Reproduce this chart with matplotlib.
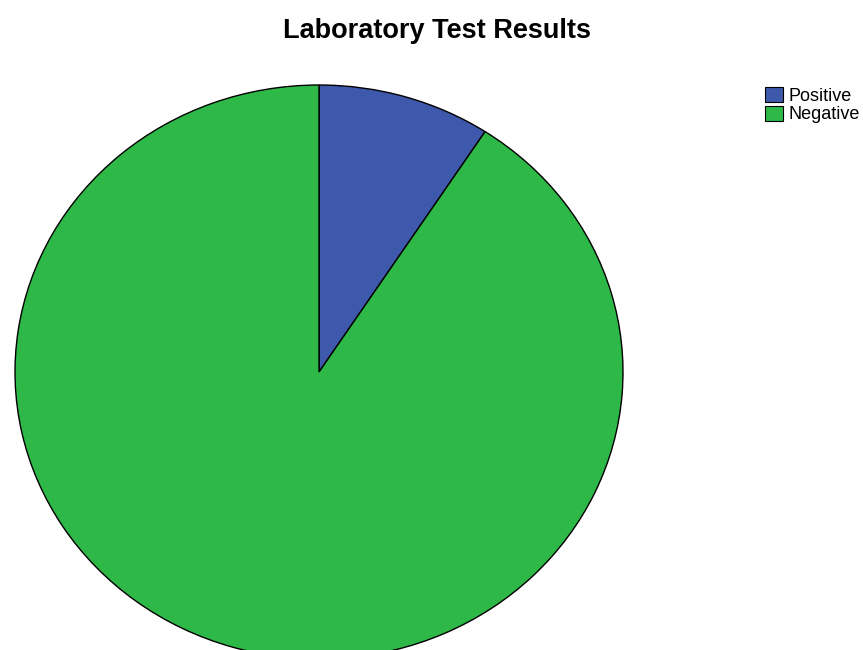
import matplotlib
matplotlib.use("Agg")
import matplotlib.pyplot as plt
from matplotlib.patches import Patch

categories = ["Positive", "Negative"]
values = [9.2, 90.8]
colors = ["#3E58AC", "#2EB848"]

W, H = 863, 650
fig = plt.figure(figsize=(W / 100, H / 100), dpi=100)
plt.rcParams['font.family'] = ['Liberation Sans', 'DejaVu Sans']

cx, cy, rx, ry = 319, 372, 304, 287
ax = fig.add_axes([(cx - rx) / W, (H - (cy + ry)) / H, 2 * rx / W, 2 * ry / H])
ax.pie(values, colors=colors, startangle=90, counterclock=False,
       wedgeprops=dict(edgecolor="black", linewidth=1.0))
ax.set_aspect("auto")
ax.set_xlim(-1, 1)
ax.set_ylim(-1, 1)
ax.axis("off")

fig.text(437 / W, 1 - 38 / H, "Laboratory Test Results", ha="center", va="baseline",
         fontsize=19.5, fontweight="bold")

handles = [Patch(facecolor=c, edgecolor="black", linewidth=0.8) for c in colors]
fig.legend(handles, categories, loc="upper left",
           bbox_to_anchor=(765 / W, 1 - 87 / H), frameon=False,
           fontsize=13, handlelength=1.0, handleheight=0.9, handletextpad=0.3,
           labelspacing=0.05, borderpad=0, borderaxespad=0)

fig.savefig("out.png", dpi=100)
